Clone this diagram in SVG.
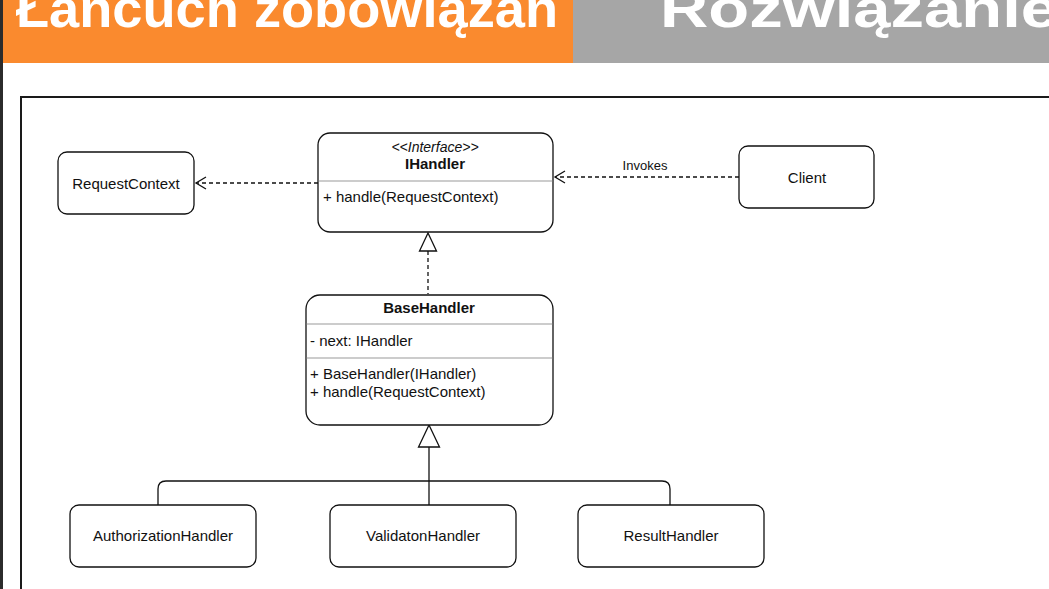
<svg xmlns="http://www.w3.org/2000/svg" width="1049" height="589" viewBox="0 0 1049 589">
<style>
.node{fill:#fff;stroke:#111;stroke-width:1.3}
.sep{stroke:#9a9a9a;stroke-width:1.2}
.t{font-family:"Liberation Sans",Arial,sans-serif;font-size:15px;fill:#111}
.c{text-anchor:middle}
.b{font-weight:bold}
.conn{fill:none;stroke:#111;stroke-width:1.3}
.dash{stroke-dasharray:4 3}
.hdr{font-family:"Liberation Sans",Arial,sans-serif;font-weight:bold;font-size:54px;fill:#fff}
</style>
<defs>
<marker id="open" markerWidth="14" markerHeight="14" refX="12" refY="7" orient="auto" markerUnits="userSpaceOnUse">
<path d="M2,1 L12,7 L2,13" fill="none" stroke="#111" stroke-width="1.3"/>
</marker>
</defs>
<rect width="1049" height="589" fill="#fff"/>
<g id="header">
<rect x="3" y="0" width="570" height="63" fill="#FA8A2E"/>
<rect x="573" y="0" width="476" height="63" fill="#A6A6A6"/>
<rect x="0" y="0" width="3" height="589" fill="#2B2B2B"/>
<text class="hdr" x="16" y="27" textLength="542" lengthAdjust="spacingAndGlyphs">Łańcuch zobowiązań</text>
<text class="hdr" x="660" y="27" textLength="398" lengthAdjust="spacingAndGlyphs">Rozwiązanie</text>
</g>
<rect id="frame" x="21" y="97" width="1040" height="500" fill="none" stroke="#1a1a1a" stroke-width="2"/>
<g id="connectors">
<line class="conn dash" x1="739" y1="177" x2="555" y2="177" marker-end="url(#open)"/>
<text class="t c" x="645" y="170" style="font-size:13px">Invokes</text>
<line class="conn dash" x1="318" y1="183" x2="196" y2="183" marker-end="url(#open)"/>
<line class="conn dash" x1="428" y1="251" x2="428" y2="294"/>
<path class="conn" d="M428,233 L436.5,251 L419.5,251 Z" fill="#fff"/>
<path class="conn" d="M429,425 L439.5,447 L418.5,447 Z" fill="#fff"/>
<line class="conn" x1="429" y1="447" x2="429" y2="505"/>
<path class="conn" d="M158,505 L158,489 Q158,481 166,481 L662,481 Q670,481 670,489 L670,505"/>
</g>
<g id="RequestContext">
<rect class="node" x="58" y="152" width="136" height="62" rx="9"/>
<text class="t c" x="126" y="189">RequestContext</text>
</g>
<g id="IHandler">
<rect class="node" x="318" y="133" width="235" height="99" rx="12"/>
<text class="t c" x="435" y="152" font-style="italic" style="font-size:14px">&lt;&lt;Interface&gt;&gt;</text>
<text class="t c b" x="435" y="169">IHandler</text>
<line class="sep" x1="318.7" y1="181" x2="552.3" y2="181"/>
<text class="t" x="323" y="202">+ handle(RequestContext)</text>
</g>
<g id="Client">
<rect class="node" x="739" y="146" width="135" height="62" rx="9"/>
<text class="t c" x="807" y="183">Client</text>
</g>
<g id="BaseHandler">
<rect class="node" x="306" y="295" width="247" height="130" rx="14"/>
<text class="t c b" x="429" y="313">BaseHandler</text>
<line class="sep" x1="306.7" y1="324" x2="552.3" y2="324"/>
<text class="t" x="310" y="346">- next: IHandler</text>
<line class="sep" x1="306.7" y1="358" x2="552.3" y2="358"/>
<text class="t" x="310" y="379">+ BaseHandler(IHandler)</text>
<text class="t" x="310" y="397">+ handle(RequestContext)</text>
</g>
<g id="AuthorizationHandler">
<rect class="node" x="70" y="505" width="186" height="62" rx="9"/>
<text class="t c" x="163" y="541">AuthorizationHandler</text>
</g>
<g id="ValidatonHandler">
<rect class="node" x="330" y="505" width="186" height="62" rx="9"/>
<text class="t c" x="423" y="541">ValidatonHandler</text>
</g>
<g id="ResultHandler">
<rect class="node" x="578" y="505" width="186" height="62" rx="9"/>
<text class="t c" x="671" y="541">ResultHandler</text>
</g>
</svg>
